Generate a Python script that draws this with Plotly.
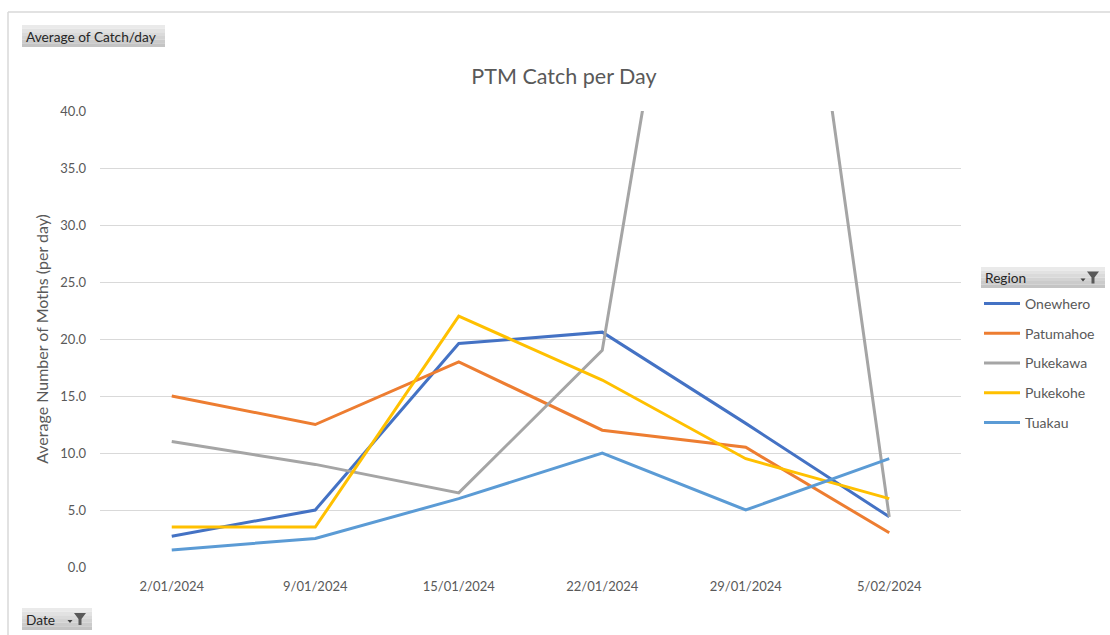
import plotly.graph_objects as go

dates = ["2/01/2024", "9/01/2024", "15/01/2024", "22/01/2024", "29/01/2024", "5/02/2024"]
onewhero = [2.7, 5.0, 19.6, 20.6, 12.6, 4.4]
patumahoe = [15.0, 12.5, 18.0, 12.0, 10.5, 3.0]
pukekawa = [11.0, 9.0, 6.5, 19.0, 94.0, 4.4]
pukekohe = [3.5, 3.5, 22.0, 16.4, 9.5, 6.0]
tuakau = [1.5, 2.5, 6.0, 10.0, 5.0, 9.5]

series = [
    ("Onewhero", onewhero, "#4472C4"),
    ("Patumahoe", patumahoe, "#ED7D31"),
    ("Pukekawa", pukekawa, "#A5A5A5"),
    ("Pukekohe", pukekohe, "#FFC000"),
    ("Tuakau", tuakau, "#5B9BD5"),
]

W, H = 1110, 635
L, R, T, B = 100, 961, 111, 567
FONT = "Lato"
GREY = "#595959"


def X(px):
    return (px - L) / (R - L)


def Y(py):
    return (B - py) / (B - T)


fig = go.Figure()
for i, (name, vals, col) in enumerate(series):
    fig.add_trace(go.Scatter(
        x=dates, y=vals, name=name, mode="lines",
        line=dict(color=col, width=3),
        legendgroup=f"g{i}",
    ))

shapes = []
annotations = []

# chart border (top and left)
shapes.append(dict(type="line", xref="paper", yref="paper", x0=X(8), x1=X(1112), y0=Y(12), y1=Y(12),
                   line=dict(color="#d9d9d9", width=1.5)))
shapes.append(dict(type="line", xref="paper", yref="paper", x0=X(8), x1=X(8), y0=Y(12), y1=Y(640),
                   line=dict(color="#d9d9d9", width=1.5)))


def button(x0, y0, x1, y1, text, funnel=False):
    n = 6
    top = (0xEA, 0xEA, 0xEA)
    bot = (0xC4, 0xC4, 0xC4)
    for k in range(n):
        t = k / (n - 1)
        c = tuple(int(top[j] + (bot[j] - top[j]) * t) for j in range(3))
        ya = y0 + (y1 - y0) * k / n
        yb = y0 + (y1 - y0) * (k + 1) / n
        shapes.append(dict(type="rect", xref="paper", yref="paper",
                           x0=X(x0), x1=X(x1), y0=Y(ya), y1=Y(yb),
                           fillcolor="rgb(%d,%d,%d)" % c, line=dict(width=0), layer="above"))
    annotations.append(dict(xref="paper", yref="paper", x=X(x0 + 2), y=Y((y0 + y1) / 2),
                            text=text, showarrow=False, xanchor="left", yanchor="middle",
                            font=dict(family=FONT, size=13.7, color="#262626")))
    if funnel:
        fx = x1 - 12
        fy = (y0 + y1) / 2
        path = "M %f %f L %f %f L %f %f L %f %f L %f %f L %f %f Z" % (
            X(fx - 6), Y(fy - 6), X(fx + 6), Y(fy - 6), X(fx + 1.5), Y(fy),
            X(fx + 1.5), Y(fy + 6), X(fx - 1.5), Y(fy + 6), X(fx - 1.5), Y(fy))
        shapes.append(dict(type="path", xref="paper", yref="paper", path=path,
                           fillcolor="#595959", line=dict(width=0), layer="above"))
        ax = fx - 10
        apath = "M %f %f L %f %f L %f %f Z" % (
            X(ax - 2.5), Y(fy + 1), X(ax + 2.5), Y(fy + 1), X(ax), Y(fy + 4))
        shapes.append(dict(type="path", xref="paper", yref="paper", path=apath,
                           fillcolor="#404040", line=dict(width=0), layer="above"))


button(22, 25, 165, 47, "Average of Catch/day")
button(22, 608, 92, 630, "Date", funnel=True)
button(981, 267, 1105, 288, "Region", funnel=True)

fig.update_layout(
    width=W, height=H, autosize=False,
    margin=dict(l=L, r=W - R, t=T, b=H - B, pad=0, autoexpand=False),
    paper_bgcolor="white", plot_bgcolor="white",
    font=dict(family=FONT, color=GREY, size=13),
    title=dict(text="PTM Catch per Day", x=564 / W, xanchor="center",
               y=1 - 76 / H, yanchor="middle",
               font=dict(family=FONT, size=21.5, color=GREY)),
    xaxis=dict(type="category", range=[-0.5, 5.5], showgrid=False, zeroline=False,
               showline=False, ticks="", tickfont=dict(size=13, color=GREY),
               ticklabelstandoff=10),
    yaxis=dict(range=[0, 40], dtick=5, tickformat=".1f", showgrid=True, gridcolor="#d9d9d9",
               gridwidth=1.3, zeroline=False, showline=False, ticks="",
               tickfont=dict(size=13, color=GREY), ticklabelstandoff=13,
               title=dict(text="Average Number of Moths (per day)", standoff=7,
                          font=dict(size=16, color=GREY))),
    showlegend=True,
    legend=dict(x=X(979), xanchor="left", y=Y(288), yanchor="top",
                font=dict(family=FONT, size=14, color=GREY),
                tracegroupgap=8.5, bgcolor="rgba(0,0,0,0)", itemwidth=36),
    shapes=shapes,
    annotations=annotations,
)

fig.write_html("out.html",
               config={"responsive": False, "displayModeBar": False},
               post_script="document.body.style.margin='0';document.body.style.overflow='hidden';")
